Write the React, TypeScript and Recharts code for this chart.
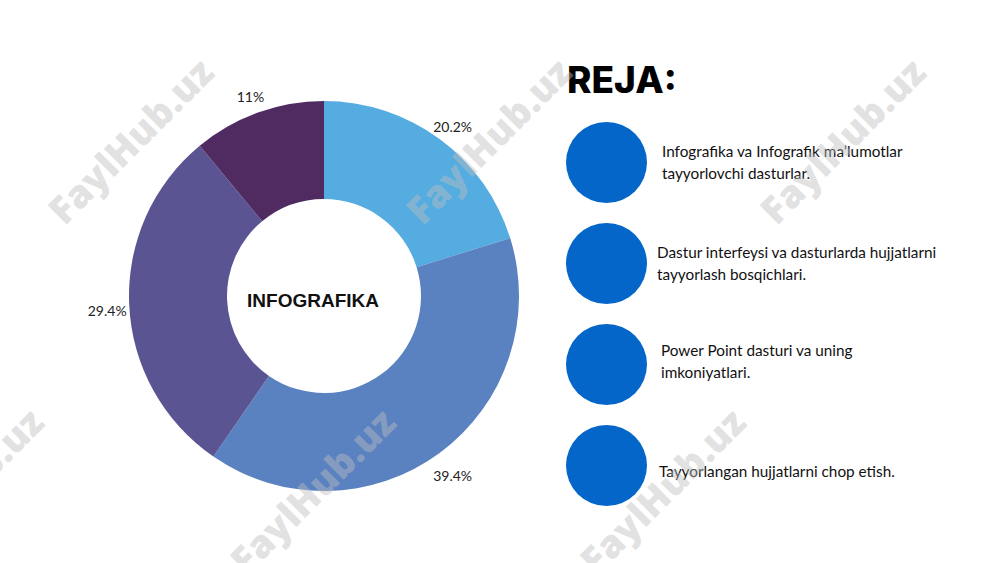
import { PieChart, Pie, Cell } from 'recharts';

// slice shares, clockwise from 12 o'clock
const shares = [20.2, 39.4, 29.4, 11];
const sliceColors = ['#54ACE1', '#5A81C0', '#5A5592', '#502B61'];
const centerTitle = 'INFOGRAFIKA';
const planTitle = 'REJA:';
const planItems = [
  ['Infografika va Infografik ma\u2019lumotlar', 'tayyorlovchi dasturlar.'],
  ['Dastur interfeysi va dasturlarda hujjatlarni', 'tayyorlash bosqichlari.'],
  ['Power Point dasturi va uning', 'imkoniyatlari.'],
  ['Tayyorlangan hujjatlarni chop etish.'],
];
const planTextX = [662, 657, 661, 659];
const watermarks = [
  [130, 140], [488, 140], [842, 140],
  [-40, 490], [312, 490], [662, 490],
];

const data = shares.map((v) => ({ value: v }));

const RADIAN = Math.PI / 180;

const renderLabel = (props: any) => {
  const { cx, cy, midAngle, outerRadius, value } = props;
  const r = outerRadius + 22;
  const x = cx + r * Math.cos(-midAngle * RADIAN);
  const y = cy + r * Math.sin(-midAngle * RADIAN) + 5;
  return (
    <text x={x} y={y} textAnchor="middle" dominantBaseline="central"
      fontFamily="Lato, 'Noto Sans', sans-serif" fontSize={14} fill="#222">
      {`${value}%`}
    </text>
  );
};

const App = () => {
  return (
    <div style={{ position: 'fixed', left: 0, top: 0, width: 1000, height: 563, background: '#fff', overflow: 'hidden' }}>
      <PieChart width={1000} height={563} margin={{ top: 0, right: 0, bottom: 0, left: 0 }}
        style={{ position: 'absolute', left: 0, top: 0 }}>
        <Pie
          data={data}
          dataKey="value"
          cx={324}
          cy={296}
          innerRadius={97}
          outerRadius={195}
          startAngle={90}
          endAngle={-270}
          stroke="none"
          label={renderLabel}
          labelLine={false}
          isAnimationActive={false}
        >
          {data.map((_, i) => (
            <Cell key={i} fill={sliceColors[i]} />
          ))}
        </Pie>
        <text x={313} y={300} textAnchor="middle" dominantBaseline="central"
          fontFamily="'Liberation Sans', Arial, sans-serif" fontWeight="bold" fontSize={19} fill="#111">
          {centerTitle}
        </text>
      </PieChart>

      <div style={{ position: 'absolute', left: 567, top: 58, fontFamily: 'Inter, sans-serif', fontWeight: 800, fontSize: 37, color: '#000', lineHeight: '44px' }}>
        {planTitle}
      </div>

      {planItems.map((lines, i) => (
        <div key={i}>
          <div style={{ position: 'absolute', left: 566, top: 122 + i * 101, width: 81, height: 81, borderRadius: '50%', background: '#0466C8' }} />
          <div style={{ position: 'absolute', left: planTextX[i], top: 162 + i * 101 - lines.length * 11 - (i === 3 ? -6 : 0) - (i === 2 ? 3 : 0), fontFamily: 'Lato, sans-serif', fontSize: 15.3, lineHeight: '22px', color: '#111', whiteSpace: 'nowrap' }}>
            {lines.map((l, j) => <div key={j}>{l}</div>)}
          </div>
        </div>
      ))}

      {watermarks.map(([x, y], i) => (
        <div key={i} style={{ position: 'absolute', left: x - 130, top: y - 25, width: 260, height: 50, textAlign: 'center', lineHeight: '50px', transform: 'rotate(-45deg)', fontFamily: "'Open Sans', sans-serif", fontWeight: 800, fontSize: 38, color: 'rgba(190,190,190,0.45)', pointerEvents: 'none', whiteSpace: 'nowrap' }}>
          FaylHub.uz
        </div>
      ))}
    </div>
  );
};

export default App;
